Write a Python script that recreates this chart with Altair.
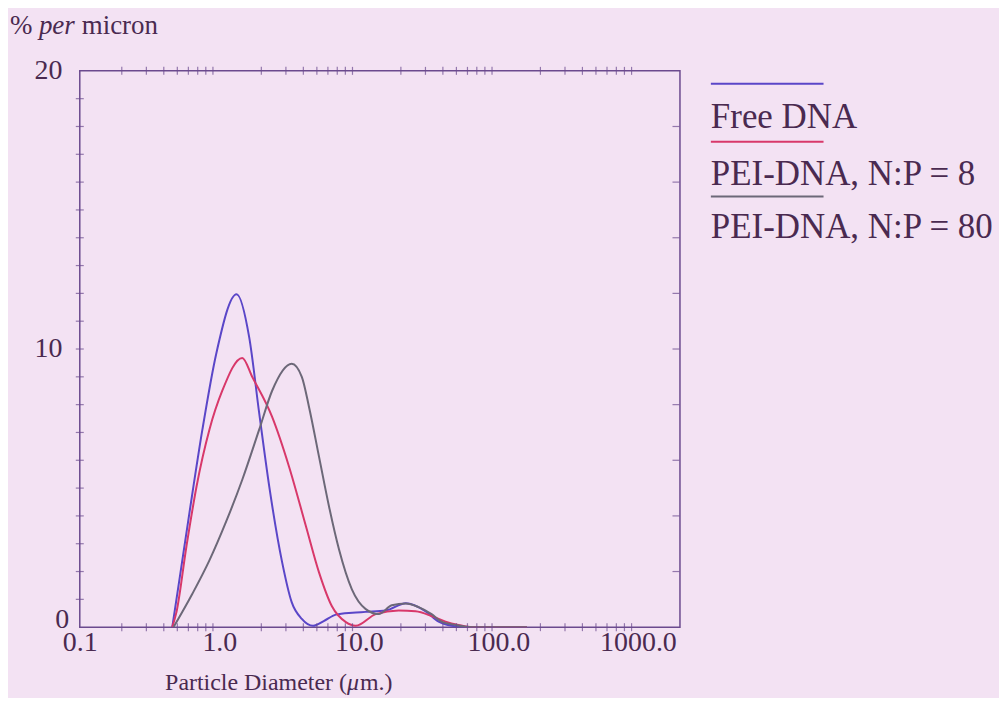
import altair as alt
import pandas as pd

# ---------------- data ----------------
free_d = [0.46, 0.518, 0.611, 0.756, 0.953, 1.33, 1.64, 1.93, 2.28, 2.82, 3.3, 3.9, 4.7,
          5.6, 6.85, 9.0, 11.2, 15.6, 21.7, 30.1, 37.3, 46.2, 60, 160]
free_v = [0, 1.72, 4.12, 7.1, 9.86, 11.97, 10.4, 7.7, 5.05, 2.33, 0.9, 0.3, 0.05,
          0.22, 0.45, 0.52, 0.55, 0.6, 0.86, 0.57, 0.2, 0.05, 0, 0]

np8_d = [0.46, 0.493, 0.581, 0.686, 0.849, 1.05, 1.46, 1.72, 2.39, 3.16, 4.18, 5.18, 6.41,
         8.07, 9.5, 13.2, 19.3, 25.5, 33.2, 41.8, 51.8, 65, 160]
np8_v = [0, 0.54, 2.9, 5.05, 7.1, 8.5, 9.68, 9.0, 7.56, 5.77, 3.62, 1.97, 0.75,
         0.18, 0.05, 0.47, 0.6, 0.57, 0.4, 0.2, 0.08, 0, 0]

np80_d = [0.47, 0.641, 0.849, 1.12, 1.46, 1.93, 2.39, 3.3, 3.9, 4.40, 5.18, 6.11, 7.2,
          8.91, 11.2, 13.9, 17.2, 21.7, 26.8, 33.2, 39.1, 49.3, 65, 160]
np80_v = [0, 1.2, 2.4, 3.8, 5.3, 7.1, 8.5, 9.47, 9.0, 7.9, 6.13, 4.34, 2.8,
          1.36, 0.65, 0.47, 0.79, 0.85, 0.72, 0.47, 0.2, 0.08, 0, 0]

series_names = ["Free DNA", "PEI-DNA, N:P = 8", "PEI-DNA, N:P = 80"]
series_colors = ["#5a46c8", "#d8386a", "#6c6878"]

x_tick_values = [0.1, 1, 10, 100, 1000]
y_tick_values = [0, 10, 20]
minor_x = [k * 10.0 ** e for e in range(-1, 3) for k in range(2, 10)]
left_ticks = list(range(1, 20))
right_ticks = list(range(2, 20, 2))

# ---------------- styling ----------------
W, H = 602, 558
BG = "#f3e2f3"
FRAME = "#6b4a8e"
TXT = "#4a2a50"
FONT = "Liberation Serif"
FS = 28

xscale = alt.Scale(type="log", domain=[0.1, 2000])
yscale = alt.Scale(domain=[0, 20])

xaxis = alt.Axis(values=x_tick_values, format=".1f", ticks=False, domain=False,
                 grid=False, labelPadding=1, labelFont=FONT, labelFontSize=FS,
                 labelColor=TXT, labelFlush=False, labelOverlap=False, title=None)
yaxis = alt.Axis(values=y_tick_values, format="d", ticks=False, domain=False,
                 grid=False, labelPadding=18, labelFont=FONT, labelFontSize=FS,
                 labelColor=TXT, title=None,
                 labelAlign={"condition": {"test": "datum.value == 0", "value": "center"},
                             "value": "right"},
                 labelBaseline={"condition": {"test": "datum.value == 0", "value": "alphabetic"},
                                "value": "middle"})

rows = []
for name, ds, vs in zip(series_names, [free_d, np8_d, np80_d], [free_v, np8_v, np80_v]):
    for d, v in zip(ds, vs):
        rows.append({"series": name, "d": d, "v": v})
df = pd.DataFrame(rows)

lines = alt.Chart(df).mark_line(strokeWidth=2, interpolate="monotone", clip=True).encode(
    x=alt.X("d:Q", scale=xscale, axis=xaxis),
    y=alt.Y("v:Q", scale=yscale, axis=yaxis),
    color=alt.Color("series:N", scale=alt.Scale(domain=series_names, range=series_colors),
                    legend=None),
)

left_df = pd.DataFrame({"v": left_ticks})
right_df = pd.DataFrame({"v": right_ticks})
minor_df = pd.DataFrame({"d": minor_x})

left_t = alt.Chart(left_df).mark_tick(size=8, thickness=1.2, color=FRAME).encode(
    y=alt.Y("v:Q", scale=yscale, axis=yaxis), x=alt.value(0))
right_t = alt.Chart(right_df).mark_tick(size=7, thickness=1.2, color=FRAME).encode(
    y=alt.Y("v:Q", scale=yscale, axis=yaxis), x=alt.value(W - 4))
top_t = alt.Chart(minor_df).mark_tick(size=8, thickness=1.2, color=FRAME).encode(
    x=alt.X("d:Q", scale=xscale, axis=xaxis), y=alt.value(0))
bot_t = alt.Chart(minor_df).mark_tick(size=8, thickness=1.2, color=FRAME).encode(
    x=alt.X("d:Q", scale=xscale, axis=xaxis), y=alt.value(H))


def txt(s, x, y, align="left", style="normal", size=FS, baseline="middle"):
    return alt.Chart(pd.DataFrame({"t": [s]})).mark_text(
        align=align, baseline=baseline, font=FONT, fontSize=size, fontStyle=style, color=TXT
    ).encode(x=alt.value(x), y=alt.value(y), text="t:N")


# y title "% per micron"
ytitle = [
    txt("%", -70, -45, size=27),
    txt("per", -41, -45, style="italic", size=27),
    txt("micron", 2, -45, size=27),
]
# x title "Particle Diameter (μm.)"
xtitle = [
    txt("Particle Diameter (", 268, 614, align="right", size=24),
    txt("μ", 268, 614, style="italic", size=24),
    txt("m.)", 281, 614, size=24),
]

# legend
leg = []
LX0, LX1 = 633, 746
line_y = [13, 71, 126]
text_y = [46, 103, 157]
for name, col, ly, ty in zip(series_names, series_colors, line_y, text_y):
    leg.append(alt.Chart(pd.DataFrame({"n": [name]})).mark_rule(color=col, strokeWidth=2).encode(
        x=alt.value(LX0), x2=alt.value(LX1), y=alt.value(ly)))
    leg.append(txt(name, LX0, ty, size=35))

chart = alt.layer(lines, left_t, right_t, top_t, bot_t, *ytitle, *xtitle, *leg).properties(
    width=W, height=H,
    background=BG,
    padding={"left": 72, "top": 62, "right": 320, "bottom": 70},
    autosize=alt.AutoSizeParams(type="none"),
).configure_view(stroke=FRAME, strokeWidth=1.5)

chart.save("out.html", embed_options={"renderer": "svg", "actions": False})
